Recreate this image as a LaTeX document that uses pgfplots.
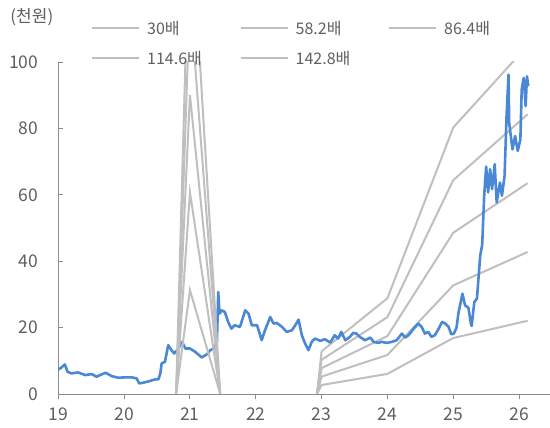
\documentclass[border=0pt]{standalone}
\usepackage{fontspec}
\setmainfont{Noto Sans CJK KR}
\usepackage{pgfplots}
\pgfplotsset{compat=1.18}
\definecolor{priceblue}{HTML}{4A88D6}
\definecolor{bandgray}{HTML}{BFBFBF}
\definecolor{axisgray}{HTML}{8C8C8C}
\definecolor{txtgray}{HTML}{5F5F5F}

\begin{document}
\begin{tikzpicture}
\begin{axis}[
  name=ax,
  scale only axis, width=491.7pt, height=332pt,
  xmin=19, xmax=26.47, ymin=0, ymax=100,
  xtick={19,...,26}, ytick={0,20,...,100},
  axis x line*=bottom, axis y line*=left,
  axis line style={-, draw=axisgray, line width=0.9pt},
  tick align=center, major tick length=5pt,
  xtick style={draw=axisgray, line width=0.9pt, yshift=-2.5pt},
  ytick style={draw=axisgray, line width=0.9pt, xshift=2.5pt},
  tick label style={font=\fontsize{17.5}{20}\selectfont, text=txtgray},
  xticklabel style={yshift=-8pt},
  yticklabel style={xshift=-14pt},
  /pgf/number format/assume math mode=true,
  legend columns=3,
  legend style={draw=none, fill=none, at={(axis description cs:0.0665,1.124)}, anchor=north west,
    font=\fontsize{16}{19}\selectfont, text=txtgray, inner sep=0pt,
    column sep=7pt, row sep=15.7pt, nodes={inner sep=0pt}},
  legend image code/.code={\draw[#1] (0pt,0.7pt) -- (47pt,0.7pt);},
]
% band lines from 2023
\addplot[bandgray, line width=2pt] coordinates {(22.93,0)(23,2.70)(24,6.06)(25,16.86)(26.13,22.05)};
\addplot[bandgray, line width=2pt] coordinates {(22.93,0)(23,5.24)(24,11.76)(25,32.71)(26.13,42.78)};
\addplot[bandgray, line width=2pt] coordinates {(22.93,0)(23,7.78)(24,17.45)(25,48.56)(26.13,63.50)};
\addplot[bandgray, line width=2pt] coordinates {(22.93,0)(23,10.31)(24,23.15)(25,64.41)(26.13,84.23)};
\addplot[bandgray, line width=2pt] coordinates {(22.93,0)(23,12.85)(24,28.85)(25,80.25)(26.13,104.96)};

% price
\addplot[priceblue, line width=2.6pt, line join=round, forget plot] coordinates {
(19.00,7.4)(19.05,8.0)(19.10,8.9)(19.14,6.7)(19.20,6.2)(19.30,6.5)(19.41,5.7)(19.51,6.0)
(19.58,5.2)(19.66,5.9)(19.72,6.4)(19.81,5.4)(19.91,4.9)(20.01,5.0)(20.12,5.0)(20.19,4.7)
(20.23,3.2)(20.29,3.4)(20.39,3.9)(20.47,4.4)(20.52,4.4)(20.55,6.2)(20.57,9.2)(20.62,9.7)
(20.67,14.7)(20.72,13.2)(20.76,12.2)(20.82,13.5)(20.88,15.7)(20.93,13.7)(21.00,13.7)(21.08,12.7)
(21.18,11.0)(21.26,12.0)(21.31,13.2)(21.36,13.7)(21.41,15.7)(21.43,30.7)(21.45,24.2)(21.48,25.2)
(21.53,24.7)(21.58,21.7)(21.63,19.7)(21.68,20.7)(21.76,20.2)(21.84,25.2)(21.89,24.2)(21.94,20.7)
(22.02,20.7)(22.09,16.2)(22.14,19.2)(22.22,23.2)(22.27,21.2)(22.32,21.4)(22.40,20.2)(22.47,18.7)
(22.55,19.2)(22.60,20.7)(22.65,22.4)(22.70,17.7)(22.75,15.2)(22.80,13.2)(22.85,15.7)(22.90,16.7)
(22.98,16.0)(23.05,16.5)(23.13,15.5)(23.20,17.7)(23.25,16.7)(23.30,18.7)(23.36,16.2)(23.43,17.2)
(23.48,18.4)(23.53,18.2)(23.58,17.2)(23.66,16.2)(23.74,17.0)(23.79,15.7)(23.86,15.4)(23.91,15.7)
(23.99,15.4)(24.07,15.7)(24.14,16.2)(24.22,18.2)(24.27,17.0)(24.32,17.7)(24.40,19.7)(24.47,21.2)
(24.52,20.2)(24.57,18.2)(24.62,18.7)(24.67,17.2)(24.72,17.7)(24.78,19.7)(24.83,21.7)(24.88,21.2)
(24.93,20.2)(24.97,18.0)(25.01,18.2)(25.05,20.0)(25.08,24.5)(25.14,30.2)(25.18,26.7)(25.23,26.0)
(25.27,21.0)(25.28,20.5)(25.32,27.7)(25.36,28.7)(25.41,41.7)(25.44,45.0)(25.47,59.7)(25.50,68.5)
(25.53,60.7)(25.56,67.7)(25.59,61.7)(25.63,69.2)(25.66,57.7)(25.71,63.7)(25.74,59.7)(25.78,65.7)
(25.81,83.7)(25.84,96.2)(25.85,81.7)(25.90,73.7)(25.94,77.7)(25.98,73.2)(26.02,76.7)(26.04,91.7)
(26.07,95.2)(26.10,86.7)(26.12,95.7)(26.14,92.7)
};

% band spikes around 2021
\addplot[bandgray, line width=2pt, forget plot] coordinates {(20.79,0)(21,31.3)(21.46,0)};
\addplot[bandgray, line width=2pt, forget plot] coordinates {(20.79,0)(21,60.7)(21.46,0)};
\addplot[bandgray, line width=2pt, forget plot] coordinates {(20.79,0)(21,90.1)(21.46,0)};
\addplot[bandgray, line width=2pt, forget plot] coordinates {(20.79,0)(21,119.5)(21.46,0)};
\addplot[bandgray, line width=2pt, forget plot] coordinates {(20.79,0)(21,148.9)(21.46,0)};

\legend{\makebox[85.5pt][l]{30배},\makebox[85.5pt][l]{58.2배},\makebox[85.5pt][l]{86.4배},
  \makebox[85.5pt][l]{114.6배},\makebox[85.5pt][l]{142.8배}}
\end{axis}
\node[anchor=west, font=\fontsize{17}{20}\selectfont, text=txtgray, inner sep=0pt]
  at ([xshift=-48pt,yshift=45pt]ax.north west) {(천원)};
\pgfresetboundingbox
\path (-58.3pt,-34pt) rectangle (491.7pt,394pt);
\end{tikzpicture}
\end{document}
